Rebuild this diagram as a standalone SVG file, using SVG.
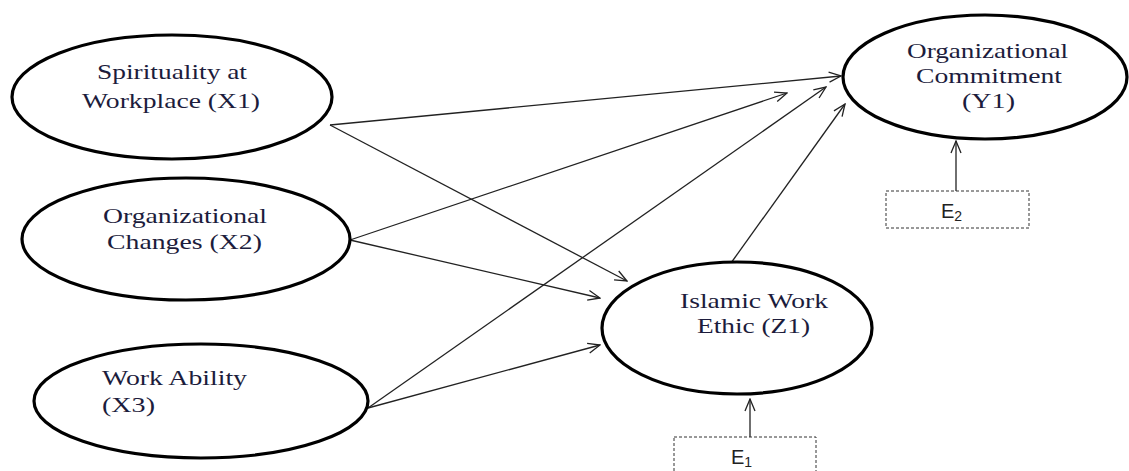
<svg xmlns="http://www.w3.org/2000/svg" width="1129" height="471" viewBox="0 0 1129 471">
<style>
.node{fill:#fff;stroke:#000;stroke-width:3.2}
.lbl{font-family:"Liberation Serif","Times New Roman",serif;font-size:22px;fill:#1c1c3c}
.err{fill:#fff;stroke:#333;stroke-width:1;stroke-dasharray:3,2}
.elbl{font-family:"Liberation Sans",Arial,sans-serif;font-size:20px;fill:#222}
.sub{font-size:14px}
.conn{stroke:#222;stroke-width:1.3;fill:none;marker-end:url(#arr)}
</style>
<defs>
<marker id="arr" viewBox="0 0 14 12" refX="13" refY="6" markerWidth="14" markerHeight="12" markerUnits="userSpaceOnUse" orient="auto">
<path d="M1,1 L13,6 L1,11" fill="none" stroke="#222" stroke-width="1.3"/>
</marker>
</defs>
<g id="connectors">
<line class="conn" x1="330" y1="125" x2="841" y2="76"/>
<line class="conn" x1="330" y1="125" x2="627" y2="281"/>
<line class="conn" x1="350" y1="240" x2="787" y2="93"/>
<line class="conn" x1="350" y1="240" x2="600" y2="298"/>
<line class="conn" x1="368" y1="408" x2="826" y2="87"/>
<line class="conn" x1="368" y1="408" x2="600" y2="345"/>
<line class="conn" x1="731" y1="263" x2="845" y2="104"/>
<line class="conn" x1="956" y1="191" x2="956" y2="141"/>
<line class="conn" x1="750" y1="437" x2="750" y2="399"/>
</g>
<g id="X1">
<ellipse class="node" cx="172" cy="97" rx="160" ry="62"/>
<text class="lbl" x="97" y="79" textLength="150" lengthAdjust="spacingAndGlyphs">Spirituality at</text>
<text class="lbl" x="82" y="108" textLength="178" lengthAdjust="spacingAndGlyphs">Workplace (X1)</text>
</g>
<g id="X2">
<ellipse class="node" cx="186" cy="239" rx="164" ry="61"/>
<text class="lbl" x="103" y="223" textLength="164" lengthAdjust="spacingAndGlyphs">Organizational</text>
<text class="lbl" x="107" y="249" textLength="155" lengthAdjust="spacingAndGlyphs">Changes (X2)</text>
</g>
<g id="X3">
<ellipse class="node" cx="201" cy="401" rx="167" ry="57"/>
<text class="lbl" x="102" y="385" textLength="145" lengthAdjust="spacingAndGlyphs">Work Ability</text>
<text class="lbl" x="102" y="412" textLength="53" lengthAdjust="spacingAndGlyphs">(X3)</text>
</g>
<g id="Y1">
<ellipse class="node" cx="985" cy="77" rx="142" ry="62"/>
<text class="lbl" x="907" y="58" textLength="161" lengthAdjust="spacingAndGlyphs">Organizational</text>
<text class="lbl" x="916" y="83" textLength="146" lengthAdjust="spacingAndGlyphs">Commitment</text>
<text class="lbl" x="962" y="108" textLength="53" lengthAdjust="spacingAndGlyphs">(Y1)</text>
</g>
<g id="Z1">
<ellipse class="node" cx="737" cy="328" rx="135" ry="66"/>
<text class="lbl" x="680" y="308" textLength="148" lengthAdjust="spacingAndGlyphs">Islamic Work</text>
<text class="lbl" x="697" y="333" textLength="113" lengthAdjust="spacingAndGlyphs">Ethic (Z1)</text>
</g>
<g id="E2">
<rect class="err" x="886" y="191" width="143" height="37"/>
<text class="elbl" x="941" y="218">E<tspan class="sub" dy="3">2</tspan></text>
</g>
<g id="E1">
<rect class="err" x="674" y="437" width="142" height="40"/>
<text class="elbl" x="731" y="464">E<tspan class="sub" dy="3">1</tspan></text>
</g>
</svg>
